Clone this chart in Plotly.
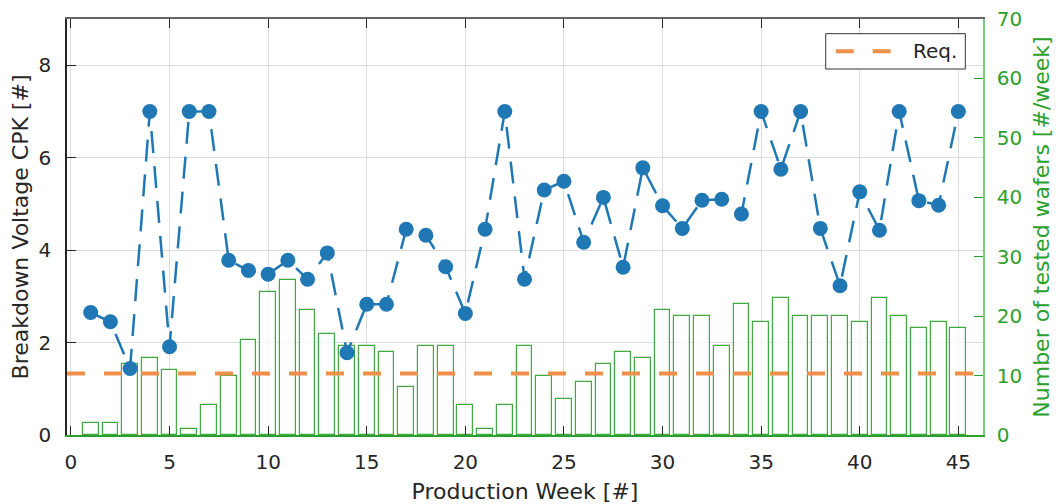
import plotly.graph_objects as go

# Production weeks
weeks = list(range(1, 46))

# Breakdown voltage CPK per week
cpk = [2.65, 2.45, 1.44, 7.00, 1.91, 7.00, 7.00, 3.78, 3.56, 3.48,
       3.78, 3.37, 3.94, 1.78, 2.83, 2.83, 4.45, 4.32, 3.64, 2.63,
       4.45, 7.00, 3.37, 5.30, 5.49, 4.17, 5.14, 3.63, 5.78, 4.96,
       4.47, 5.08, 5.10, 4.78, 7.00, 5.75, 7.00, 4.47, 3.23, 5.26,
       4.43, 7.00, 5.07, 4.97, 7.00]

# Number of tested wafers per week
wafers = [2, 2, 12, 13, 11, 1, 5, 10, 16, 24,
          26, 21, 17, 15, 15, 14, 8, 15, 15, 5,
          1, 5, 15, 10, 6, 9, 12, 14, 13, 21,
          20, 20, 15, 22, 19, 23, 20, 20, 20, 19,
          23, 20, 18, 19, 18]

# CPK requirement
req_cpk = 1.33
req_label = "Req."

# Axis settings
x_range = [-0.2, 46.25]
cpk_range = [0, 9]
cpk_ticks = [0, 2, 4, 6, 8]
wafer_range = [0, 70]
x_ticks = list(range(0, 50, 5))

FONT = "DejaVu Sans"
BLUE = "#1f77b4"
ORANGE = "#ee8f4a"
GREEN = "rgb(44,160,44)"
GRID = "#dcdcdc"
INK = "#262626"
REQ_DASH = "18px,19px"

fig = go.Figure()

fig.add_trace(go.Bar(
    x=weeks, y=wafers, width=0.8,
    marker=dict(color="rgba(255,255,255,0.75)",
                line=dict(color="rgba(44,160,44,0.9)", width=1.2)),
    xaxis="x", yaxis="y", showlegend=False, hoverinfo="skip",
))

fig.add_trace(go.Scatter(
    x=x_range, y=[req_cpk, req_cpk], mode="lines", name=req_label,
    line=dict(color=ORANGE, width=4, dash=REQ_DASH),
    xaxis="x", yaxis="y2", showlegend=False,
))

fig.add_trace(go.Scatter(
    x=weeks, y=cpk, mode="lines+markers", name="CPK",
    line=dict(color=BLUE, width=2.5, dash="22px,13px"),
    marker=dict(color=BLUE, size=15),
    xaxis="x", yaxis="y2", showlegend=False,
))

# Invisible trace so the top axis (frame line and ticks) is drawn
fig.add_trace(go.Scatter(x=[x_range[0]], y=[0], xaxis="x2", yaxis="y", mode="markers",
                         marker=dict(opacity=0), showlegend=False, hoverinfo="skip"))

# Legend box for the requirement line (paper coordinates)
fig.add_shape(type="rect", xref="paper", yref="paper",
              x0=0.8283, x1=0.9807, y0=0.8798, y1=0.9647,
              fillcolor="white", line=dict(color="#333333", width=1), layer="above")
fig.add_shape(type="line", xref="paper", yref="paper",
              x0=0.8392, x1=0.8992, y0=0.9224, y1=0.9224,
              line=dict(color=ORANGE, width=4, dash=REQ_DASH), layer="above")
fig.add_annotation(xref="paper", yref="paper", x=0.9215, y=0.9224,
                   xanchor="left", yanchor="middle", showarrow=False,
                   text=req_label, font=dict(family=FONT, size=20, color=INK))

fig.update_layout(
    width=1060, height=504,
    margin=dict(l=67, r=77, t=19, b=69),
    paper_bgcolor="white", plot_bgcolor="white",
    font=dict(family=FONT, size=20, color=INK),
    bargap=0,
    showlegend=False,
    xaxis=dict(
        range=x_range, tickvals=x_ticks, showgrid=True, gridcolor=GRID, gridwidth=1,
        zeroline=False, showline=True, linecolor=GREEN, linewidth=1.5, automargin=False,
        ticks="inside", ticklen=9, tickcolor=INK, tickwidth=1,
        tickfont=dict(family=FONT, size=20, color=INK), ticklabelstandoff=8,
        title=dict(text="Production Week [#]", font=dict(family=FONT, size=22, color=INK),
                   standoff=11),
    ),
    xaxis2=dict(
        range=x_range, tickvals=x_ticks, overlaying="x", side="top", anchor="y",
        showgrid=False, zeroline=False, showline=True, linecolor="#666666", linewidth=2,
        ticks="inside", ticklen=9, tickcolor=INK, tickwidth=1, showticklabels=False,
        automargin=False,
    ),
    yaxis=dict(
        range=wafer_range, dtick=10, side="right", showgrid=False, zeroline=False,
        showline=True, linecolor="rgba(44,160,44,0.6)", linewidth=1.5, automargin=False,
        ticks="inside", ticklen=9, tickcolor=GREEN, tickwidth=1,
        tickfont=dict(family=FONT, size=20, color=GREEN), ticklabelstandoff=8,
        title=dict(text="Number of tested wafers [#/week]",
                   font=dict(family=FONT, size=22, color=GREEN), standoff=12),
    ),
    yaxis2=dict(
        range=cpk_range, tickvals=cpk_ticks, overlaying="y", side="left", anchor="x",
        showgrid=True, gridcolor=GRID, gridwidth=1, zeroline=False,
        showline=True, linecolor=INK, linewidth=1.5, automargin=False,
        ticks="inside", ticklen=9, tickcolor=INK, tickwidth=1,
        tickfont=dict(family=FONT, size=20, color=INK), ticklabelstandoff=10,
        title=dict(text="Breakdown Voltage CPK [#]", font=dict(family=FONT, size=22, color=INK),
                   standoff=4),
    ),
)

fig.write_html("out.html")
